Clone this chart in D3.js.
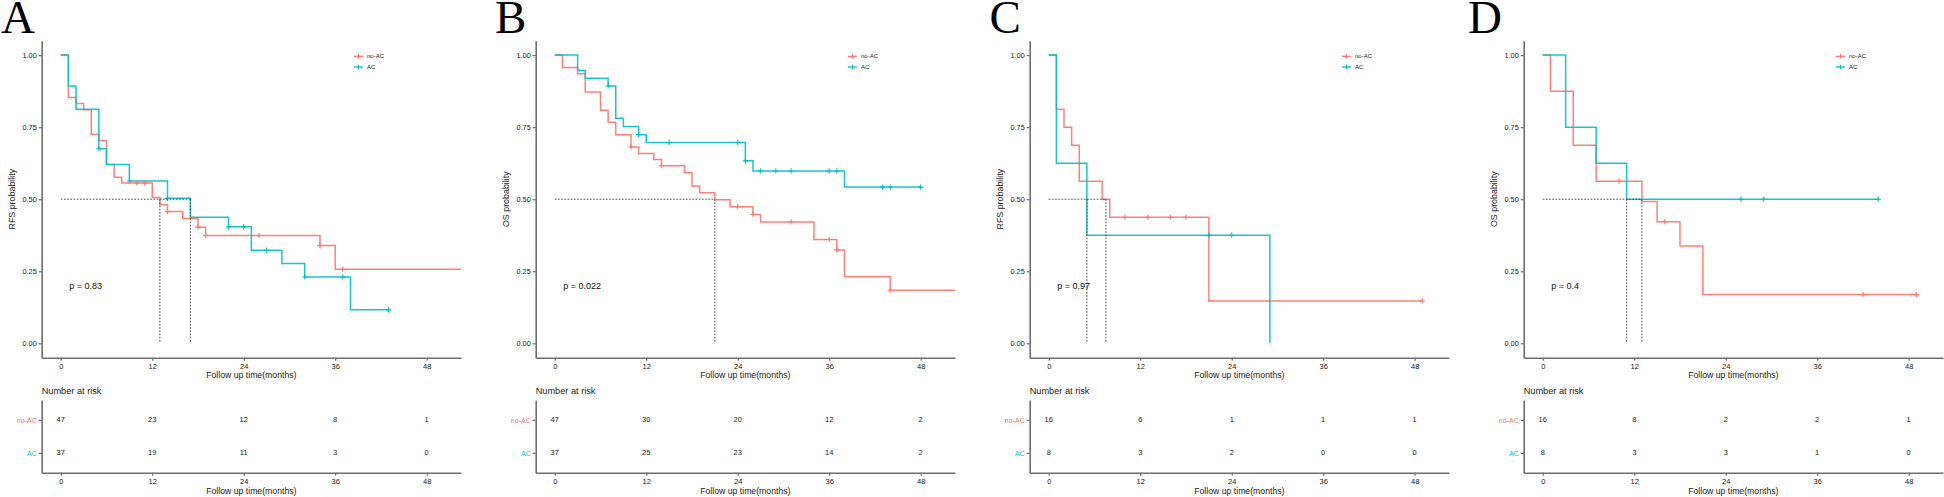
<!DOCTYPE html>
<html>
<head>
<meta charset="utf-8">
<script src="https://cdn.jsdelivr.net/npm/d3@7/dist/d3.min.js"></script>
<style>
    body { margin: 0; background: #fff; }
    text { font-family: "Liberation Sans", Arial, sans-serif; }
</style>
</head>
<body>
<svg id="chart" width="1944" height="497"></svg>
<script>
// Data
var panelLetters = ["A", "B", "C", "D"];
var yTitles = ["RFS probability", "OS probability", "RFS probability", "OS probability"];
var pValues = ["p = 0.83", "p = 0.022", "p = 0.97", "p = 0.4"];
var groups = ["no-AC", "AC"];
var timeTicks = [0, 12, 24, 36, 48];
var probTicks = [0, 0.25, 0.5, 0.75, 1];

// Kaplan-Meier steps [time, survival]
var stepsNoAC = [
    [[0, 1], [1, 0.853], [2, 0.832], [3, 0.810], [4, 0.725], [5, 0.704], [6, 0.620], [7, 0.576], [8, 0.556],
     [12, 0.506], [13, 0.481], [14, 0.457], [16, 0.433], [18, 0.403], [19, 0.374], [34, 0.339], [36, 0.257]],
    [[0, 1], [1, 0.957], [3, 0.935], [4, 0.872], [6, 0.809], [7, 0.767], [8, 0.724], [10, 0.681], [11, 0.659],
     [13, 0.638], [14, 0.616], [17, 0.592], [18, 0.546], [19, 0.522], [21, 0.498], [23, 0.474], [26, 0.447],
     [27, 0.421], [34, 0.360], [37, 0.324], [38, 0.231], [44, 0.184]],
    [[0, 1], [1, 0.8125], [2, 0.75], [3, 0.6875], [4, 0.5625], [7, 0.5], [8, 0.4375], [21, 0.147]],
    [[0, 1], [1, 0.875], [4, 0.6875], [7, 0.5625], [13, 0.492], [15, 0.422], [18, 0.3375], [21, 0.169]]
];
var stepsAC = [
    [[0, 1], [1, 0.893], [2, 0.812], [5, 0.675], [6, 0.620], [9, 0.563], [14, 0.503], [17, 0.4375],
     [22, 0.404], [25, 0.323], [29, 0.277], [32, 0.230], [38, 0.116]],
    [[0, 1], [3, 0.947], [4, 0.920], [7, 0.893], [8, 0.781], [9, 0.752], [11, 0.724], [12, 0.697],
     [25, 0.633], [26, 0.598], [38, 0.542]],
    [[0, 1], [1, 0.625], [5, 0.375], [29, 0]],
    [[0, 1], [3, 0.75], [7, 0.625], [11, 0.5]]
];
// censored times
var censorNoAC = [
    [10, 11, 14, 18, 19, 26, 34, 37],
    [10, 14, 24, 26, 31, 36, 37, 44],
    [10, 13, 16, 18, 49],
    [10, 16, 42, 49]
];
var censorAC = [
    [5, 9, 14, 22, 24, 27, 32, 37, 43],
    [7, 11, 15, 24, 25, 27, 29, 31, 36, 37, 43, 44, 48],
    [21, 24],
    [26, 29, 44]
];
// last follow-up time of each curve (beyond the axis gets clipped)
var endNoAC = [54, 54, 49, 49];
var endAC = [43, 48, 29, 44];
// median survival times
var mediansNoAC = [13, 21, 7.5, 13];
var mediansAC = [17, null, 5, 11];

// Number at risk
var riskNoAC = [[47, 23, 12, 8, 1], [47, 30, 20, 12, 2], [16, 6, 1, 1, 1], [16, 8, 2, 2, 1]];
var riskAC = [[37, 19, 11, 3, 0], [37, 25, 23, 14, 2], [8, 3, 2, 0, 0], [8, 3, 3, 1, 0]];

// Layout
var style = {
    panelX: [0, 494, 988, 1482],
    letterX: [1, 495, 989.5, 1468],
    colors: { "no-AC": "#F8766D", "AC": "#00BFC4" },
    axisColor: "#6e6e6e",
    textColor: "#222",
    left: 41.7, right: 461, top: 40.7, bottom: 357.7,
    riskTop: 400, riskBottom: 472.7
};

var svg = d3.select("#chart");

var x = d3.scaleLinear().domain([-2.5, 52.5]).range([style.left, style.right]);
var y = d3.scaleLinear().domain([-0.05, 1.05]).range([style.bottom, style.top]);
var yRisk = d3.scalePoint().domain(groups).range([style.riskTop, style.riskBottom]).padding(0.6);

function survAt(steps, t) {
    var s = steps[0][1];
    steps.forEach(function(d) { if (d[0] <= t) s = d[1]; });
    return s;
}

function styleAxis(g, fontSize) {
    g.select(".domain").attr("stroke", style.axisColor).attr("stroke-width", 1.6);
    g.selectAll(".tick line").attr("stroke", style.axisColor).attr("stroke-width", 1.2);
    g.selectAll(".tick text").attr("fill", style.textColor)
        .style("font-size", fontSize + "px")
        .style("font-family", "Liberation Sans, Arial, sans-serif");
}

var line = d3.line()
    .x(function(d) { return x(d[0]); })
    .y(function(d) { return y(d[1]); })
    .curve(d3.curveStepAfter);

svg.append("defs").append("clipPath").attr("id", "plotClip")
    .append("rect")
    .attr("x", style.left).attr("y", style.top)
    .attr("width", style.right - style.left).attr("height", style.bottom - style.top);

panelLetters.forEach(function(letter, i) {
    var g = svg.append("g").attr("transform", "translate(" + style.panelX[i] + ",0)");

    // Panel letter
    svg.append("text")
        .attr("x", style.letterX[i]).attr("y", 33)
        .style("font-family", "Liberation Serif, Times New Roman, serif")
        .style("font-size", "47px")
        .attr("fill", "#000")
        .text(letter);

    // Axes of survival plot
    g.append("g").attr("transform", "translate(0," + style.bottom + ")")
        .call(d3.axisBottom(x).tickValues(timeTicks).tickSize(3).tickSizeOuter(0).tickPadding(3))
        .call(styleAxis, 7.5);

    g.append("g").attr("transform", "translate(" + style.left + ",0)")
        .call(d3.axisLeft(y).tickValues(probTicks).tickFormat(d3.format(".2f")).tickSize(3).tickSizeOuter(0).tickPadding(2))
        .call(styleAxis, 7.3);

    g.append("text")
        .attr("x", (style.left + style.right) / 2).attr("y", 378)
        .attr("text-anchor", "middle")
        .style("font-size", "8.7px").attr("fill", style.textColor)
        .text("Follow up time(months)");

    g.append("text")
        .attr("transform", "translate(15," + y(0.5) + ") rotate(-90)")
        .attr("text-anchor", "middle")
        .style("font-size", "8.9px").attr("fill", style.textColor)
        .text(yTitles[i]);

    // Curves
    var curves = g.append("g").attr("clip-path", "url(#plotClip)");
    var series = [
        { name: "no-AC", steps: stepsNoAC[i], censor: censorNoAC[i], end: endNoAC[i] },
        { name: "AC", steps: stepsAC[i], censor: censorAC[i], end: endAC[i] }
    ];

    series.forEach(function(s) {
        var pts = s.steps.concat([[s.end, s.steps[s.steps.length - 1][1]]]);
        curves.append("path")
            .datum(pts)
            .attr("d", line)
            .attr("fill", "none")
            .attr("stroke", style.colors[s.name])
            .attr("stroke-width", 1.5)
            .attr("stroke-opacity", 0.9);
    });

    series.forEach(function(s) {
        curves.selectAll(null)
            .data(s.censor)
            .enter().append("path")
            .attr("d", function(t) {
                var cx = x(t), cy = y(survAt(s.steps, t));
                return "M" + (cx - 2.6) + "," + cy + "H" + (cx + 2.6) + "M" + cx + "," + (cy - 2.6) + "V" + (cy + 2.6);
            })
            .attr("stroke", style.colors[s.name])
            .attr("stroke-width", 1.1);
    });

    // Median lines
    var medians = [mediansNoAC[i], mediansAC[i]].filter(function(m) { return m != null; });
    var medianG = g.append("g")
        .attr("stroke", "#444")
        .attr("stroke-width", 1)
        .attr("stroke-dasharray", "1.6,1.6")
        .attr("fill", "none");
    medianG.append("line")
        .attr("x1", x(0)).attr("x2", x(d3.max(medians)))
        .attr("y1", y(0.5)).attr("y2", y(0.5));
    medians.forEach(function(m) {
        medianG.append("line")
            .attr("x1", x(m)).attr("x2", x(m))
            .attr("y1", y(0.5)).attr("y2", y(0));
    });

    // p value
    g.append("text")
        .attr("x", x(1.1)).attr("y", y(0.2)).attr("dy", "0.35em")
        .style("font-size", "9px").attr("fill", "#111")
        .text(pValues[i]);

    // Legend
    var legend = g.append("g");
    groups.forEach(function(name, k) {
        var ly = 56.3 + k * 10.7;
        legend.append("line")
            .attr("x1", 354).attr("x2", 363).attr("y1", ly).attr("y2", ly)
            .attr("stroke", style.colors[name]).attr("stroke-width", 1.3);
        legend.append("path")
            .attr("d", "M358.5," + (ly - 2.3) + "V" + (ly + 2.3))
            .attr("stroke", style.colors[name]).attr("stroke-width", 1.1);
        legend.append("text")
            .attr("x", 367).attr("y", ly).attr("dy", "0.35em")
            .style("font-size", "6px").attr("fill", style.textColor)
            .text(name);
    });

    // Number at risk table
    g.append("text")
        .attr("x", style.left).attr("y", 393.5)
        .style("font-size", "9.2px").attr("fill", style.textColor)
        .text("Number at risk");

    g.append("g").attr("transform", "translate(0," + style.riskBottom + ")")
        .call(d3.axisBottom(x).tickValues(timeTicks).tickSize(3).tickSizeOuter(0).tickPadding(3))
        .call(styleAxis, 7.5);

    var riskAxis = g.append("g").attr("transform", "translate(" + style.left + ",0)")
        .call(d3.axisLeft(yRisk).tickSize(3).tickSizeOuter(0).tickPadding(2))
        .call(styleAxis, 7);
    riskAxis.selectAll(".tick text").attr("fill", function(d) { return style.colors[d]; });

    g.append("text")
        .attr("x", (style.left + style.right) / 2).attr("y", 493.5)
        .attr("text-anchor", "middle")
        .style("font-size", "8.7px").attr("fill", style.textColor)
        .text("Follow up time(months)");

    var rows = [riskNoAC[i], riskAC[i]];
    rows.forEach(function(vals, k) {
        g.selectAll(null)
            .data(vals)
            .enter().append("text")
            .attr("x", function(d, j) { return x(timeTicks[j]); })
            .attr("y", yRisk(groups[k]))
            .attr("dy", "0.35em")
            .attr("text-anchor", "middle")
            .style("font-size", "7.5px").attr("fill", style.textColor)
            .text(function(d) { return d; });
    });
});
</script>
</body>
</html>
